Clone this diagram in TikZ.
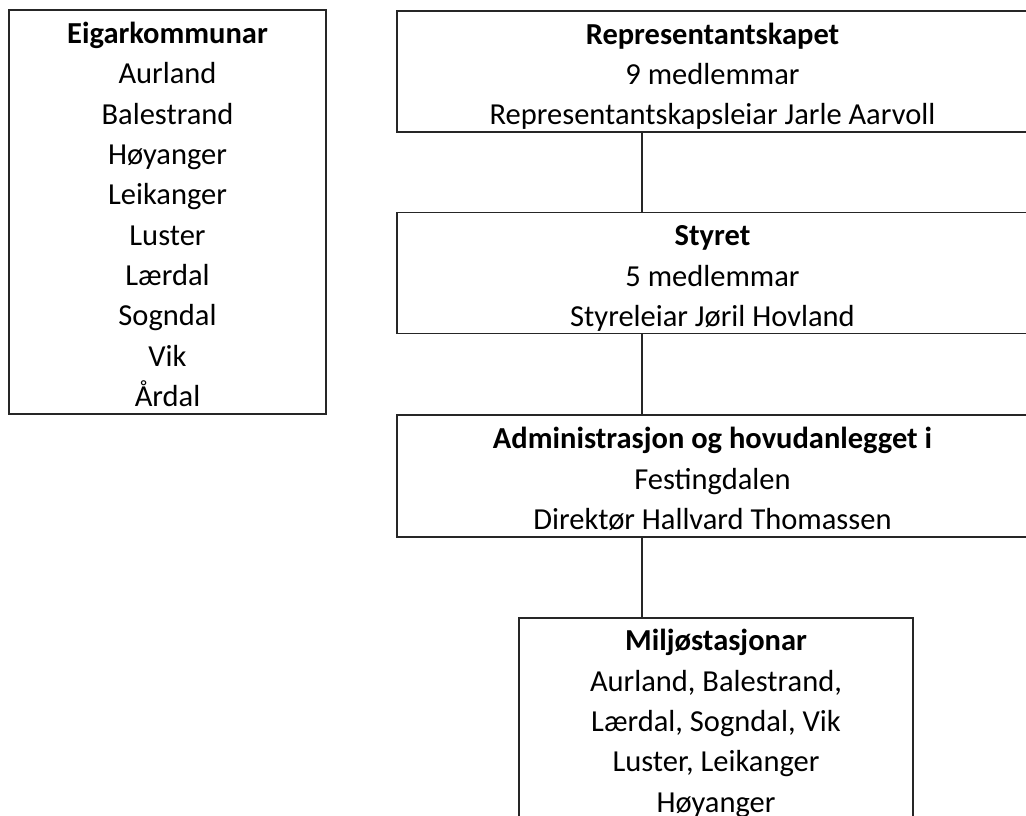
\documentclass[tikz,border=0pt]{standalone}
\usepackage{fontspec}
\setmainfont{Carlito}
\newcommand{\toprule}[1][33pt]{\rule{0pt}{#1}}
\begin{document}
\begin{tikzpicture}[x=1pt,y=-1pt,
    box/.style={draw=black!85, line width=1.2pt, align=center, inner sep=0pt,
      font=\fontsize{30.5}{40.3}\selectfont,
      execute at end node={\rule[-7pt]{0pt}{0pt}}},
    link/.style={draw=black!85, line width=1.2pt}]
    \useasboundingbox (0,0) rectangle (1026,816);
    \clip (0,0) rectangle (1026,816);

    \node[box, minimum width=317pt, minimum height=404pt] (eigar) at (167.5,212)
        {\toprule\textbf{Eigarkommunar}\\Aurland\\Balestrand\\Høyanger\\Leikanger\\Luster\\Lærdal\\Sogndal\\Vik\\Årdal};

    \node[box, minimum width=631pt, minimum height=121pt] (repr) at (712.5,71.5)
        {\toprule\textbf{Representantskapet}\\9 medlemmar\\Representantskapsleiar Jarle Aarvoll};
    \node[box, minimum width=631pt, minimum height=121pt] (styret) at (712.5,273)
        {\toprule\textbf{Styret}\\5 medlemmar\\Styreleiar Jøril Hovland};
    \node[box, minimum width=631pt, minimum height=122pt] (admin) at (712.5,476)
        {\toprule\textbf{Administrasjon og hovudanlegget i}\\Festingdalen\\Direktør Hallvard Thomassen};
    \node[box, minimum width=394pt, minimum height=210pt] (miljo) at (716,723)
        {\toprule[24pt]\textbf{Miljøstasjonar}\\Aurland, Balestrand,\\Lærdal, Sogndal, Vik\\Luster, Leikanger\\Høyanger};

    \coordinate (spine) at (642,0);
    \draw[link] (repr.south -| spine) -- (styret.north -| spine);
    \draw[link] (styret.south -| spine) -- (admin.north -| spine);
    \draw[link] (admin.south -| spine) -- (miljo.north -| spine);
\end{tikzpicture}
\end{document}
